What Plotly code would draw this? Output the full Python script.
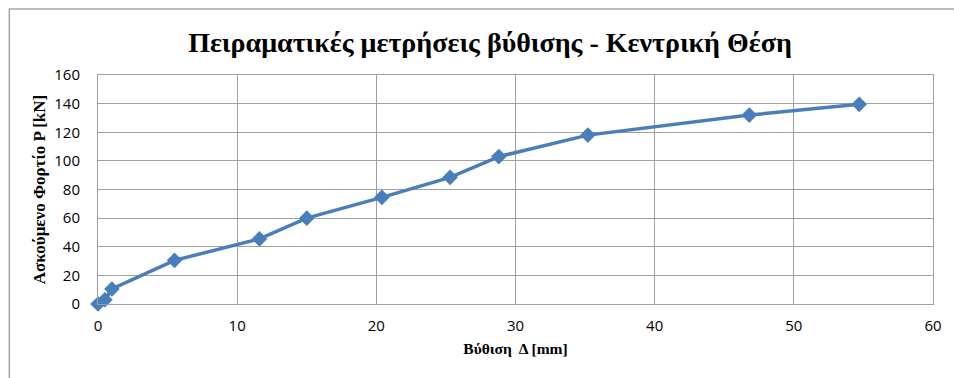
import plotly.graph_objects as go

# Load-deflection measurements (central position)
deflection_mm = [0, 0.5, 1.0, 5.5, 11.6, 15.0, 20.4, 25.3, 28.8, 35.2, 46.8, 54.7]
load_kN = [0, 3, 10.5, 30.5, 45.5, 60, 74.5, 88.5, 103, 118, 132, 139.5]

x_ticks = [0, 10, 20, 30, 40, 50, 60]
y_ticks = [0, 20, 40, 60, 80, 100, 120, 140, 160]

title_text = "Πειραματικές μετρήσεις βύθισης - Κεντρική Θέση"
x_title = "Βύθιση  Δ [mm]"
y_title = "Ασκούμενο Φορτίο P [kN]"

W, H = 954, 378
L, R, T, B = 98, 18, 75, 74
pw, ph = W - L - R, H - T - B

blue = "#4A7EBB"
grid = "#A0A0A0"
serif = "Liberation Serif, Times New Roman, serif"
sans = "Open Sans, Noto Sans, sans-serif"

fig = go.Figure(
    go.Scatter(
        x=deflection_mm,
        y=load_kN,
        mode="lines+markers",
        line=dict(color=blue, width=3.5),
        marker=dict(symbol="diamond", size=12, color=blue),
        cliponaxis=False,
        showlegend=False,
    )
)

axis_common = dict(
    showgrid=True,
    gridcolor=grid,
    gridwidth=1,
    showline=True,
    linecolor=grid,
    linewidth=1,
    mirror=True,
    zeroline=False,
    ticks="",
    tickfont=dict(family=sans, size=15, color="#000000"),
)

fig.update_xaxes(
    range=[0, 60],
    tickvals=x_ticks,
    ticktext=[str(v) for v in x_ticks],
    title=dict(text="<b>" + x_title + "</b>", font=dict(family=serif, size=15.5, color="#000000"), standoff=9),
    ticklabelstandoff=8,
    **axis_common,
)
fig.update_yaxes(
    range=[0, 160],
    tickvals=y_ticks,
    ticktext=[str(v) for v in y_ticks],
    title=dict(text="<b>" + y_title + "</b>", font=dict(family=serif, size=17, color="#000000"), standoff=4),
    ticklabelstandoff=14,
    **axis_common,
)

# outer chart frame
fig.add_shape(
    type="rect",
    xref="paper",
    yref="paper",
    x0=(9 - L) / pw,
    x1=(W + 10 - L) / pw,
    y0=-(H + 10 - (T + ph)) / ph,
    y1=(T + ph - 9) / ph,
    line=dict(color="#A6A6A6", width=1.5),
    fillcolor="rgba(0,0,0,0)",
    layer="below",
)

fig.update_layout(
    width=W,
    height=H,
    margin=dict(l=L, r=R, t=T, b=B),
    paper_bgcolor="#FFFFFF",
    plot_bgcolor="#FFFFFF",
    title=dict(
        text="<b>" + title_text + "</b>",
        font=dict(family=serif, size=28, color="#000000"),
        x=(490) / W,
        xanchor="center",
        y=1 - 42 / H,
        yanchor="middle",
    ),
)

fig.write_html("out.html")
